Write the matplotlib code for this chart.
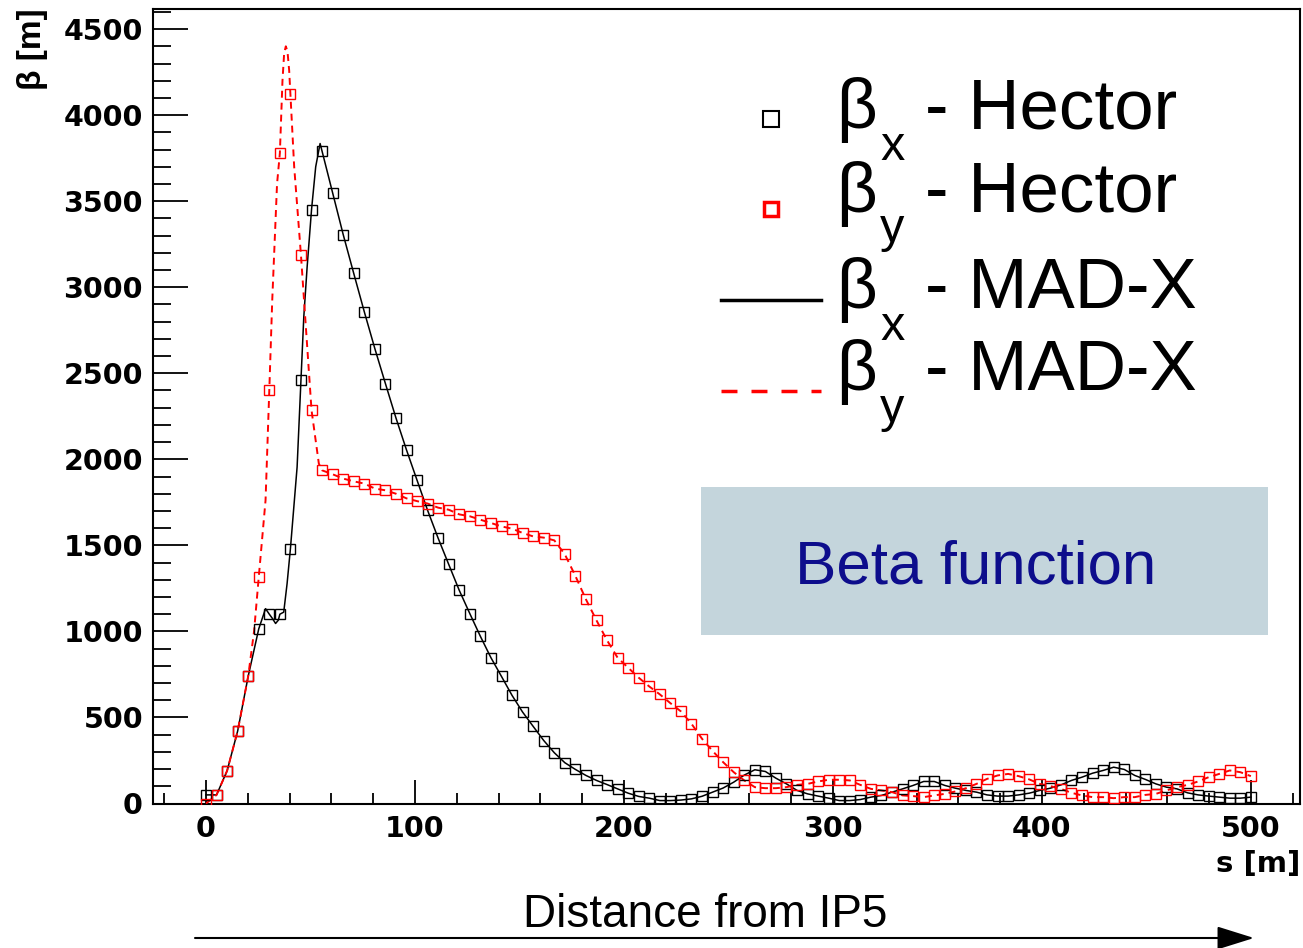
import numpy as np
import matplotlib
matplotlib.use("Agg")
import matplotlib.pyplot as plt
from matplotlib.lines import Line2D
from matplotlib.patches import Rectangle
from matplotlib.ticker import MultipleLocator

plt.rcParams["lines.scale_dashes"] = False

# Hector points: 100 positions from 0 to 500 m
s_hector = np.linspace(0, 500, 100)

hector_bx = [50, 50, 190, 421, 740, 1015, 1100, 1100, 1481, 2463,
             3451, 3790, 3548, 3306, 3080, 2857, 2643, 2440, 2240, 2054,
             1878, 1703, 1541, 1389, 1238, 1103, 971, 847, 738, 628,
             531, 448, 366, 295, 237, 198, 163, 134, 110, 85,
             60, 41, 31, 17, 17, 20, 27, 42, 66, 90,
             124, 165, 196, 186, 147, 114, 76, 56, 43, 31,
             17, 17, 23, 37, 47, 66, 85, 105, 128, 128,
             105, 89, 76, 66, 50, 43, 43, 50, 60, 76,
             89, 108, 134, 153, 176, 192, 211, 198, 163, 140,
             114, 95, 85, 62, 50, 43, 37, 31, 31, 37]

hector_by = [0, 50, 190, 421, 740, 1316, 2405, 3780, 4120, 3185,
             2285, 1936, 1913, 1888, 1872, 1859, 1830, 1820, 1800, 1773,
             1757, 1743, 1719, 1707, 1680, 1669, 1649, 1630, 1610, 1597,
             1572, 1552, 1545, 1529, 1448, 1322, 1186, 1064, 948, 847,
             789, 731, 680, 634, 583, 535, 463, 376, 305, 240,
             182, 134, 95, 89, 89, 95, 108, 114, 128, 138,
             138, 134, 108, 85, 76, 66, 47, 43, 37, 47,
             56, 70, 89, 114, 143, 163, 172, 159, 140, 114,
             101, 85, 62, 47, 37, 37, 31, 37, 37, 50,
             56, 76, 95, 108, 128, 153, 172, 192, 182, 159]

# extra MAD-X points read where the lines peak between Hector points
madx_x_s = [28.5, 31.8, 33.3, 34.6, 37.2, 38.8, 43.6, 46.8, 48.4, 52.5, 54.6]
madx_x_b = [1132, 1075, 1046, 1065, 1112, 1277, 1955, 2828, 3118, 3700, 3835]
madx_y_s = [23.0, 28.5, 31.7, 34.0, 36.6, 37.4, 38.2, 39.0, 39.8, 42.2, 54.0]
madx_y_b = [1000, 1762, 2924, 3600, 4200, 4360, 4400, 4370, 4260, 3700, 1975]


def merge(s_extra, b_extra, b_hector):
    s = np.concatenate([s_hector, s_extra])
    b = np.concatenate([b_hector, b_extra])
    order = np.argsort(s)
    return s[order], b[order]


W, H = 1303, 948


def fx(px):
    return px / W


def fy(py):
    return 1 - py / H


fig = plt.figure(figsize=(W / 100, H / 100), dpi=100)
ax = fig.add_axes([fx(152.7), fy(803.5), fx(1300) - fx(152.7), fy(9.3) - fy(803.5)])

sx, bx = merge(madx_x_s, madx_x_b, hector_bx)
sy, by = merge(madx_y_s, madx_y_b, hector_by)
ax.plot(sx, bx, color="black", lw=1.1, zorder=2)
ax.plot(sy, by, color="red", lw=1.4, ls=(0, (5, 3.6)), zorder=3)
ax.plot(s_hector, hector_bx, ls="none", marker="s", ms=7, mfc="none",
        mec="black", mew=1.0, zorder=4)
ax.plot(s_hector, hector_by, ls="none", marker="s", ms=7, mfc="none",
        mec="red", mew=1.0, zorder=5)

ax.set_xlim(-25.5, 523.5)
ax.set_ylim(0, 4615)
ax.xaxis.set_major_locator(MultipleLocator(100))
ax.xaxis.set_minor_locator(MultipleLocator(20))
ax.yaxis.set_major_locator(MultipleLocator(500))
ax.yaxis.set_minor_locator(MultipleLocator(100))
ax.tick_params(which="both", direction="in", top=False, right=False, width=1.3)
ax.tick_params(axis="x", which="major", length=17, pad=8, labelsize=20.5)
ax.tick_params(axis="x", which="minor", length=8)
ax.tick_params(axis="y", which="major", length=25, pad=7, labelsize=20.5)
ax.tick_params(axis="y", which="minor", length=13)
for lbl in ax.get_xticklabels() + ax.get_yticklabels():
    lbl.set_fontweight("bold")
for sp in ax.spines.values():
    sp.set_linewidth(1.5)

# axis titles
fig.text(fx(33), fy(8), "β [m]", rotation=90, ha="center", va="top",
         fontsize=24, fontweight="bold", family="Liberation Sans")
fig.text(fx(1300), fy(850), "s [m]", ha="right", va="top",
         fontsize=21, fontweight="bold")

# legend drawn by hand
rows = [(128.3, 160, "x", "Hector"), (211.7, 242, "y", "Hector"),
        (308.3, 340, "x", "MAD-X"), (390, 422, "y", "MAD-X")]
for base, sub_base, sub, word in rows:
    fig.text(fx(836), fy(base), "β", fontsize=51, family="Liberation Sans", va="baseline")
    fig.text(fx(880), fy(sub_base), sub, fontsize=35, family="Liberation Sans", va="baseline")
    fig.text(fx(924.6), fy(base), "- " + word, fontsize=51, family="Liberation Sans", va="baseline")

fig.add_artist(Line2D([fx(770.8)], [fy(118.5)], transform=fig.transFigure, marker="s",
                      ms=11.7, mfc="none", mec="black", mew=1.5))
fig.add_artist(Line2D([fx(770.8)], [fy(208.5)], transform=fig.transFigure, marker="s",
                      ms=10.6, mfc="none", mec="red", mew=2.5))
fig.add_artist(Line2D([fx(720.7), fx(820.7)], [fy(300), fy(300)], transform=fig.transFigure,
                      color="black", lw=2.5))
fig.add_artist(Line2D([fx(720.7), fx(820.7)], [fy(391), fy(391)], transform=fig.transFigure,
                      color="red", lw=2.5, ls=(0, (11.5, 10.1))))

# label box
fig.add_artist(Rectangle((fx(701), fy(635)), fx(1268) - fx(701), fy(487) - fy(635),
                         transform=fig.transFigure, facecolor="#c4d5dc", edgecolor="none"))
fig.text(fx(976), fy(584), "Beta function", ha="center", va="baseline",
         fontsize=44.6, color="#0d0d8c", family="Liberation Sans")

# bottom arrow
fig.text(fx(705), fy(927), "Distance from IP5", ha="center", va="baseline",
         fontsize=33, family="Liberation Sans")
ax.annotate("", xy=(1254, 10), xytext=(195, 10), xycoords="figure pixels",
            textcoords="figure pixels", annotation_clip=False,
            arrowprops=dict(arrowstyle="-|>,head_length=1.15,head_width=0.36",
                            color="black", lw=1.5, mutation_scale=20,
                            shrinkA=0, shrinkB=0))

fig.savefig("out.png", dpi=100)
